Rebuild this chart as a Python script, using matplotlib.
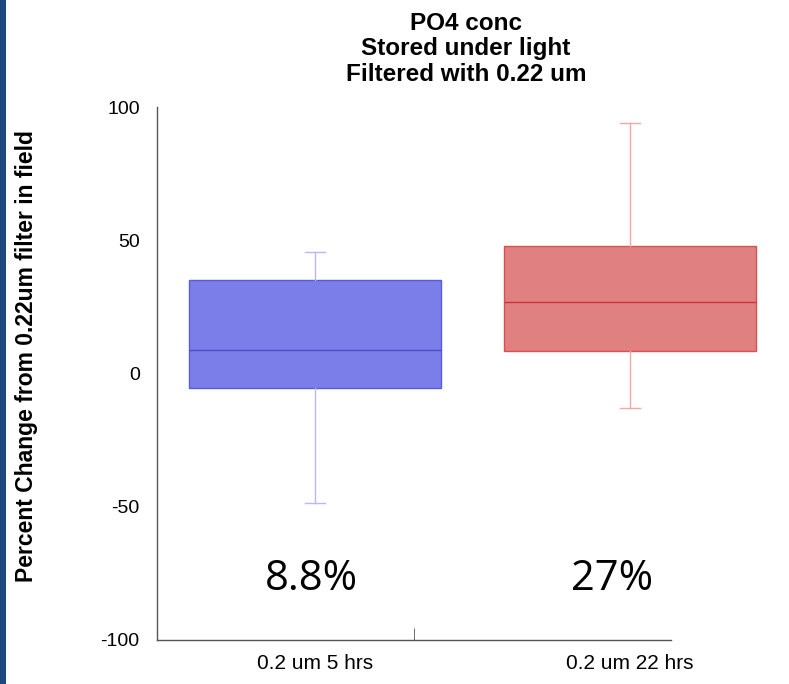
import matplotlib.pyplot as plt
from matplotlib.patches import Rectangle

### Box summary values (percent change from 0.22um field filter)
groups = ['0.2 um 5 hrs', '0.2 um 22 hrs']
whisker_low = [-48.5, -13.0]
q1 = [-5.5, 8.5]
medians = [8.8, 27.0]
q3 = [35.0, 47.8]
whisker_high = [45.5, 94.0]
median_labels = ['8.8%', '27%']

face_colors = ['#7b7ee8', '#e08080']
edge_colors = ['#5a5ce0', '#d85050']
line_colors = ['#4a4ccc', '#d03434']
whisker_colors = ['#b8b9f2', '#f0a8a8']

plt.rcParams['font.family'] = ['Liberation Sans', 'DejaVu Sans']

fig = plt.figure(figsize=(7.89, 6.84), dpi=100)
ax = fig.add_axes([157 / 789, 44 / 684, 514 / 789, 533 / 684])

### Dark strip on the left edge of the slide
fig.patches.append(Rectangle((0, 0), 6 / 789, 1, transform=fig.transFigure,
                             facecolor='#1f497d', edgecolor='none'))

stats = []
for i in range(len(groups)):
    stats.append({'whislo': whisker_low[i], 'q1': q1[i], 'med': medians[i],
                  'q3': q3[i], 'whishi': whisker_high[i], 'fliers': []})

positions = [0.615, 1.84]
bp = ax.bxp(stats, positions=positions, widths=0.98, patch_artist=True,
            showfliers=False, capwidths=0.078, manage_ticks=False)

for i, box in enumerate(bp['boxes']):
    box.set_facecolor(face_colors[i])
    box.set_edgecolor(edge_colors[i])
    box.set_linewidth(1.0)
    box.set_clip_on(False)
    bp['medians'][i].set_color(line_colors[i])
    bp['medians'][i].set_linewidth(1.0)
    bp['medians'][i].set_clip_on(False)
    for w in bp['whiskers'][2 * i:2 * i + 2] + bp['caps'][2 * i:2 * i + 2]:
        w.set_color(whisker_colors[i])
        w.set_linewidth(1.0)
        w.set_clip_on(False)

### Median percentages written under each box
label_x = [0.60, 1.77]
for i, txt in enumerate(median_labels):
    ax.text(label_x[i], -77, txt, ha='center', va='center',
            fontsize=30, family=['Open Sans', 'DejaVu Sans'])

ax.set_xlim(0, 2)
ax.set_ylim(-100, 100)
ax.set_yticks([-100, -50, 0, 50, 100])
ax.set_yticklabels(['-100', '-50', '0', '50', '100'])
ax.set_xticks(positions)
ax.set_xticklabels(groups)
ax.set_xticks([1.0], minor=True)
ax.tick_params(axis='x', which='major', length=0, pad=10, labelsize=15)
ax.tick_params(axis='x', which='minor', length=9, direction='in', color='#555555')
ax.tick_params(axis='y', length=0, pad=12.5, labelsize=14)

for side in ['top', 'right']:
    ax.spines[side].set_visible(False)
for side in ['left', 'bottom']:
    ax.spines[side].set_color('#555555')
    ax.spines[side].set_linewidth(1.0)

fig.text(27 / 789, 1 - 356 / 684, 'Percent Change from 0.22um filter in field',
         rotation=90, ha='center', va='center', fontsize=16.5, fontweight='bold')

fig.text(466 / 789, 1 - 49 / 684,
         'PO4 conc\nStored under light\nFiltered with 0.22 um',
         ha='center', va='center', fontsize=17.5, fontweight='bold',
         linespacing=1.15)

plt.savefig('out.png', dpi=100)
